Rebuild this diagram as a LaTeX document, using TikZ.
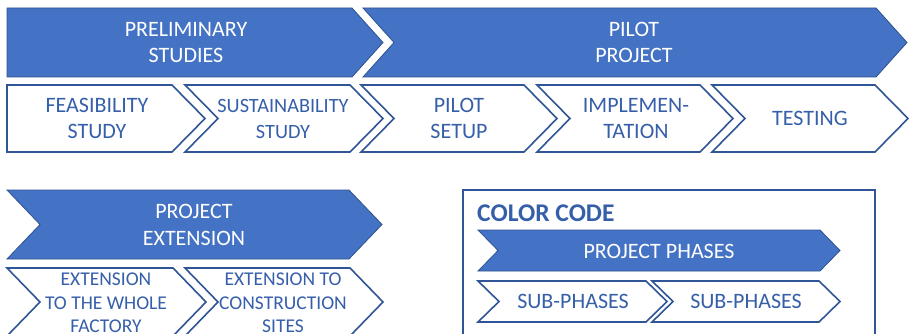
\documentclass[tikz,border=0pt]{standalone}
\usepackage{fontspec}
\setmainfont{Carlito}
\definecolor{phfill}{HTML}{4472C4}
\definecolor{phline}{HTML}{2F528F}
\definecolor{subline}{HTML}{2F5597}
\definecolor{txtblue}{HTML}{365FAA}
\tikzset{
  phase/.style={fill=phfill,draw=phline,line width=0.8pt,line join=miter},
  subph/.style={fill=white,draw=subline,line width=1.6pt,line join=miter},
  phasetxt/.style={text=white,align=center,inner sep=0pt,font=\fontsize{22}{26.5}\selectfont},
  subtxt/.style={text=txtblue,align=center,inner sep=0pt,font=\fontsize{22}{26}\selectfont},
  smalltxt/.style={text=txtblue,align=center,inner sep=0pt,font=\fontsize{19.5}{23.3}\selectfont},
}
% style, left, top, tip, bottom, depth
\newcommand\chevF[6]{\draw[#1] (#2,#3) -- ({#4-#6},#3) -- (#4,{(#3+#5)/2}) -- ({#4-#6},#5) -- (#2,#5) -- cycle;}
\newcommand\chevN[6]{\draw[#1] (#2,#3) -- ({#4-#6},#3) -- (#4,{(#3+#5)/2}) -- ({#4-#6},#5) -- (#2,#5) -- ({#2+#6},{(#3+#5)/2}) -- cycle;}
\begin{document}
\begin{tikzpicture}[x=1pt,y=-1pt]
\useasboundingbox (0,0) rectangle (909,334);
% top phases
\chevF{phase}{7}{8}{383}{77}{31}
\chevN{phase}{363}{8}{907}{77}{31}
\node[phasetxt] (prelim) at (186,42.5) {PRELIMINARY\\STUDIES};
\node[phasetxt] (pilot) at (634,42.5) {PILOT\\PROJECT};
% top sub-phases
\chevF{subph}{7}{85}{205}{152}{33}
\chevN{subph}{185}{85}{383}{152}{33}
\chevN{subph}{361}{85}{557}{152}{33}
\chevN{subph}{537}{85}{733}{152}{33}
\chevN{subph}{712}{85}{908}{152}{33}
\node[subtxt] (feas) at (97,118.5) {FEASIBILITY\\STUDY};
\node[subtxt,font=\fontsize{20.3}{26}\selectfont] (sust) at (283,119) {SUSTAINABILITY\\STUDY};
\node[subtxt] (setup) at (459,118.5) {PILOT\\SETUP};
\node[subtxt] (impl) at (636,118.5) {IMPLEMEN-\\TATION};
\node[subtxt] (test) at (810,118.5) {TESTING};
% project extension
\chevN{phase}{7}{190}{382}{259}{33}
\node[phasetxt] (ext) at (194,225) {PROJECT\\EXTENSION};
\chevN{subph}{7}{268}{206}{336}{33}
\chevN{subph}{185}{268}{383}{336}{33}
\node[smalltxt] (whole) at (106,303) {EXTENSION\\TO THE WHOLE\\FACTORY};
\node[smalltxt] (constr) at (283,303) {EXTENSION TO\\CONSTRUCTION\\SITES};
% color code
\draw[subline,line width=1.2pt] (463,345) -- (463,190) -- (875,190) -- (875,345);
\node[text=txtblue,anchor=west,inner sep=0pt,font=\fontsize{25.5}{28}\selectfont\bfseries] (cc) at (477,213) {COLOR CODE};
\chevN{phase}{478}{230}{840}{271}{20}
\node[phasetxt] (pp) at (659,251) {PROJECT PHASES};
\chevN{subph}{478}{281}{667}{322}{21}
\chevN{subph}{652}{281}{840}{322}{21}
\node[subtxt] (sp1) at (573,301.5) {SUB-PHASES};
\node[subtxt] (sp2) at (746,301.5) {SUB-PHASES};
\end{tikzpicture}
\end{document}
